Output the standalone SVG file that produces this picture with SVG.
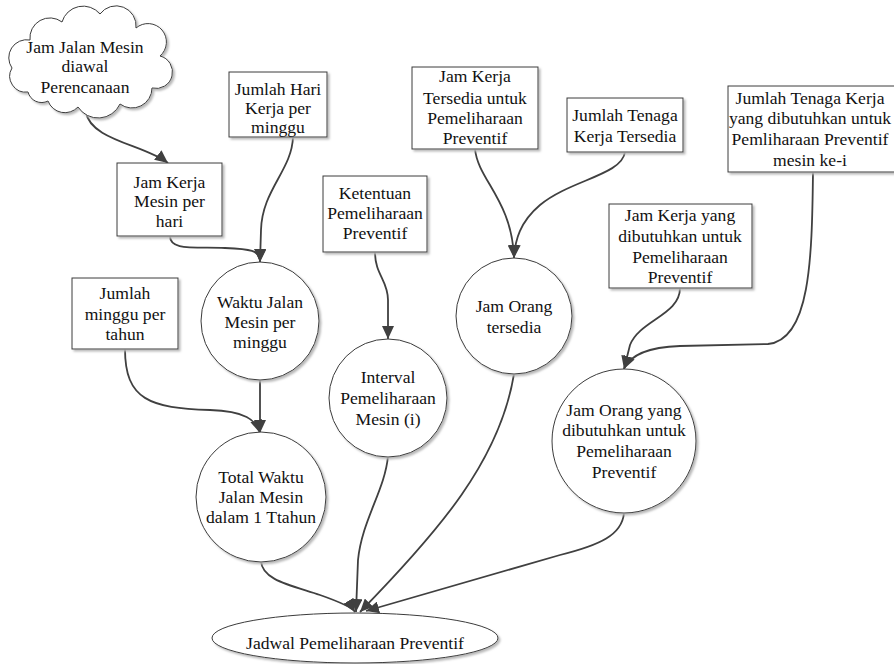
<svg xmlns="http://www.w3.org/2000/svg" width="894" height="664" viewBox="0 0 894 664">
<style>
.shape{fill:#fff;stroke:#3a3a3a;stroke-width:1;filter:url(#sh)}
.t{font-family:"Liberation Serif","Times New Roman",serif;font-size:17.6px;fill:#111;text-anchor:middle}
.c{fill:none;stroke:#404040;stroke-width:1.8;marker-end:url(#ah)}
</style>
<defs>
<filter id="sh" x="-10%" y="-10%" width="130%" height="130%">
<feDropShadow dx="2" dy="2" stdDeviation="0.8" flood-color="#b8b8b8"/>
</filter>
<marker id="ah" markerUnits="userSpaceOnUse" markerWidth="14" markerHeight="12" refX="13" refY="6" orient="auto">
<path d="M0,0 L13,6 L0,12 Z" fill="#404040"/>
</marker>
</defs>
<rect width="894" height="664" fill="#fff"/>
<g id="connectors">
<path class="c" d="M86,112 C90,140 145,145 168,163"/>
<path class="c" d="M170,236 C170,250 190,247 225,248 C250,249 260,250 260,262"/>
<path class="c" d="M293,137 C292,170 262,190 261,230 L260,262"/>
<path class="c" d="M260,380 L260,433"/>
<path class="c" d="M125,349 C125,400 150,408 210,410 C245,411 256,420 260,433"/>
<path class="c" d="M375,252 C375,275 388,280 388,300 L388,339"/>
<path class="c" d="M475,149 C478,180 512,200 514,258"/>
<path class="c" d="M625,152 C622,175 570,180 540,205 C520,222 515,240 514,258"/>
<path class="c" d="M680,288 C680,315 640,320 630,345 L624,369"/>
<path class="c" d="M813,172 C812,260 810,340 768,344 L680,346 C650,347 630,355 624,369"/>
<path class="c" d="M261,561 C262,580 290,585 320,595 C340,602 352,607 355,612"/>
<path class="c" d="M388,456 C385,490 362,520 358,560 L356,612"/>
<path class="c" d="M514,374 C500,460 440,530 360,612"/>
<path class="c" d="M624,513 C622,535 600,545 560,555 L366,611"/>
</g>
<g id="n-cloud">
<path class="shape" d="M28,92 A16,16 0 0 1 12,68 A18,18 0 0 1 30,40 A20,20 0 0 1 62,22 A22,22 0 0 1 100,14 A20,20 0 0 1 136,28 A18,18 0 0 1 160,56 A16,16 0 0 1 152,88 A20,20 0 0 1 120,104 A24,24 0 0 1 78,107 A18,18 0 0 1 48,101 A14,14 0 0 1 28,92 Z"/>
<text class="t" x="85" y="53">Jam Jalan Mesin</text>
<text class="t" x="85" y="72">diawal</text>
<text class="t" x="85" y="93">Perencanaan</text>
</g>
<g id="n-jamkerjamesin">
<rect class="shape" x="117" y="163" width="105" height="73"/>
<text class="t" x="169.5" y="188">Jam Kerja</text>
<text class="t" x="169.5" y="207">Mesin per</text>
<text class="t" x="169.5" y="227">hari</text>
</g>
<g id="n-jumlahhari">
<rect class="shape" x="229" y="72" width="98" height="65"/>
<text class="t" x="278" y="95">Jumlah Hari</text>
<text class="t" x="278" y="114">Kerja per</text>
<text class="t" x="278" y="133">minggu</text>
</g>
<g id="n-jamkerjatersedia">
<rect class="shape" x="412" y="67" width="126" height="82"/>
<text class="t" x="475" y="82">Jam Kerja</text>
<text class="t" x="475" y="104">Tersedia untuk</text>
<text class="t" x="475" y="124">Pemeliharaan</text>
<text class="t" x="475" y="144">Preventif</text>
</g>
<g id="n-tenagatersedia">
<rect class="shape" x="567" y="98" width="116" height="54"/>
<text class="t" x="625" y="121">Jumlah Tenaga</text>
<text class="t" x="625" y="142">Kerja Tersedia</text>
</g>
<g id="n-ketentuan">
<rect class="shape" x="323" y="176" width="104" height="76"/>
<text class="t" x="375" y="199">Ketentuan</text>
<text class="t" x="375" y="219">Pemeliharaan</text>
<text class="t" x="375" y="239">Preventif</text>
</g>
<g id="n-jamkerjadibutuhkan">
<rect class="shape" x="609" y="204" width="143" height="84"/>
<text class="t" x="680" y="221">Jam Kerja yang</text>
<text class="t" x="680" y="242">dibutuhkan untuk</text>
<text class="t" x="680" y="263">Pemeliharaan</text>
<text class="t" x="680" y="283">Preventif</text>
</g>
<g id="n-tenagadibutuhkan">
<rect class="shape" x="728" y="86" width="174" height="86"/>
<text class="t" x="810" y="104">Jumlah Tenaga Kerja</text>
<text class="t" x="810" y="124">yang dibutuhkan untuk</text>
<text class="t" x="810" y="145">Pemliharaan Preventif</text>
<text class="t" x="810" y="166">mesin ke-i</text>
</g>
<g id="n-minggutahun">
<rect class="shape" x="72" y="278" width="106" height="71"/>
<text class="t" x="125" y="299">Jumlah</text>
<text class="t" x="125" y="320">minggu per</text>
<text class="t" x="125" y="340">tahun</text>
</g>
<g id="n-waktujalan">
<circle class="shape" cx="260" cy="321" r="59"/>
<text class="t" x="260" y="308">Waktu Jalan</text>
<text class="t" x="260" y="328">Mesin per</text>
<text class="t" x="260" y="348">minggu</text>
</g>
<g id="n-interval">
<circle class="shape" cx="388" cy="398" r="59"/>
<text class="t" x="388" y="383">Interval</text>
<text class="t" x="388" y="404">Pemeliharaan</text>
<text class="t" x="388" y="425">Mesin (i)</text>
</g>
<g id="n-total">
<circle class="shape" cx="261" cy="497" r="65"/>
<text class="t" x="261" y="483">Total Waktu</text>
<text class="t" x="261" y="503">Jalan Mesin</text>
<text class="t" x="261" y="523">dalam 1 Ttahun</text>
</g>
<g id="n-jamorangtersedia">
<circle class="shape" cx="514" cy="316" r="58"/>
<text class="t" x="514" y="312">Jam Orang</text>
<text class="t" x="514" y="333">tersedia</text>
</g>
<g id="n-jamorangdibutuhkan">
<circle class="shape" cx="624" cy="441" r="72"/>
<text class="t" x="624" y="416">Jam Orang yang</text>
<text class="t" x="624" y="436">dibutuhkan untuk</text>
<text class="t" x="624" y="457">Pemeliharaan</text>
<text class="t" x="624" y="478">Preventif</text>
</g>
<g id="n-jadwal">
<ellipse class="shape" cx="355" cy="638" rx="143" ry="25"/>
<text class="t" x="355" y="649">Jadwal Pemeliharaan Preventif</text>
</g>
</svg>
